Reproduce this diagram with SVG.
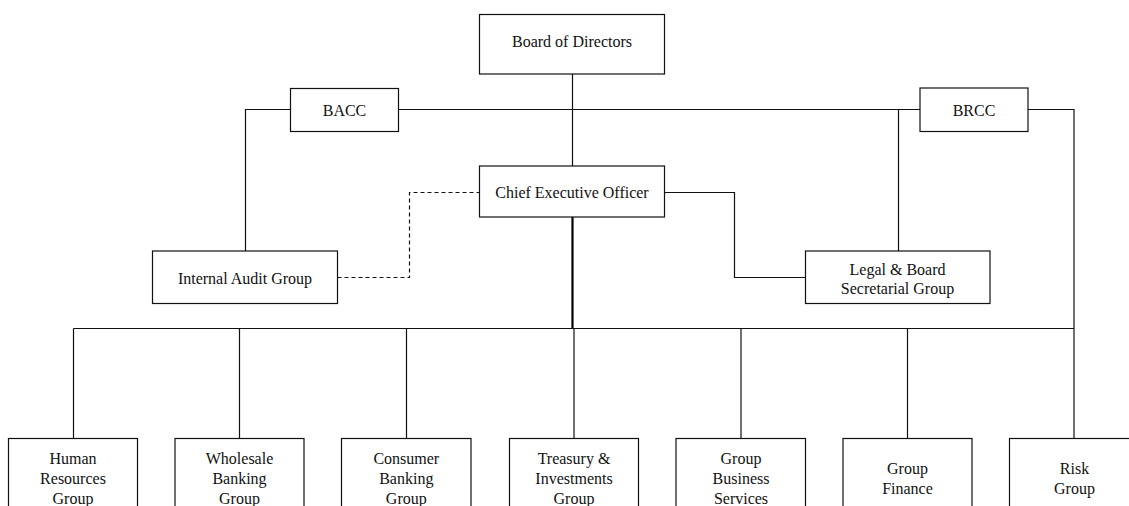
<svg xmlns="http://www.w3.org/2000/svg" width="1129" height="506" viewBox="0 0 1129 506">
<style>
.box{fill:#fff;stroke:#111;stroke-width:1.2}
.ln{fill:none;stroke:#111;stroke-width:1.2}
.thick{fill:none;stroke:#000;stroke-width:2.2}
.dash{fill:none;stroke:#111;stroke-width:1.2;stroke-dasharray:4 3}
text{font-family:"Liberation Serif","Times New Roman",serif;font-size:16px;fill:#111;text-anchor:middle}
</style>
<rect width="1129" height="506" fill="#fff"/>
<g id="connectors">
<line class="ln" x1="572.5" y1="74" x2="572.5" y2="166"/>
<polyline class="ln" points="290.5,109.5 245.5,109.5 245.5,251"/>
<line class="ln" x1="398.5" y1="109.5" x2="920" y2="109.5"/>
<line class="ln" x1="898.5" y1="109.5" x2="898.5" y2="251"/>
<polyline class="ln" points="1028,109.5 1074,109.5 1074,438.5"/>
<polyline class="dash" points="337.5,277.5 409.5,277.5 409.5,192.5 479,192.5"/>
<polyline class="ln" points="664.5,192.5 734.5,192.5 734.5,277.5 805.5,277.5"/>
<line class="thick" x1="572.5" y1="217" x2="572.5" y2="328.5"/>
<line class="ln" x1="73.5" y1="328.5" x2="1074" y2="328.5"/>
<line class="ln" x1="73.5" y1="328.5" x2="73.5" y2="438.5"/>
<line class="ln" x1="239.5" y1="328.5" x2="239.5" y2="438.5"/>
<line class="ln" x1="406.5" y1="328.5" x2="406.5" y2="438.5"/>
<line class="ln" x1="574" y1="328.5" x2="574" y2="438.5"/>
<line class="ln" x1="741" y1="328.5" x2="741" y2="438.5"/>
<line class="ln" x1="907.5" y1="328.5" x2="907.5" y2="438.5"/>
</g>
<g id="board"><rect class="box" x="479.5" y="14.5" width="185" height="59.5"/><text x="572" y="47">Board of Directors</text></g>
<g id="bacc"><rect class="box" x="290.5" y="88.5" width="108" height="43"/><text x="344.5" y="115.5">BACC</text></g>
<g id="brcc"><rect class="box" x="920" y="88" width="108" height="43.5"/><text x="974" y="115.5">BRCC</text></g>
<g id="ceo"><rect class="box" x="479.5" y="166" width="185" height="51"/><text x="572" y="197.5">Chief Executive Officer</text></g>
<g id="audit"><rect class="box" x="152.5" y="251" width="185" height="52.5"/><text x="245" y="284">Internal Audit Group</text></g>
<g id="legal"><rect class="box" x="805.5" y="251" width="184.5" height="52.5"/><text x="897.5" y="274.5">Legal &amp; Board</text><text x="897.5" y="294">Secretarial Group</text></g>
<g id="hr"><rect class="box" x="8.5" y="438.5" width="129" height="80"/><text x="73" y="463.5">Human</text><text x="73" y="483.5">Resources</text><text x="73" y="503.5">Group</text></g>
<g id="wholesale"><rect class="box" x="175" y="438.5" width="129" height="80"/><text x="239.5" y="463.5">Wholesale</text><text x="239.5" y="483.5">Banking</text><text x="239.5" y="503.5">Group</text></g>
<g id="consumer"><rect class="box" x="341.5" y="438.5" width="129.5" height="80"/><text x="406.3" y="463.5">Consumer</text><text x="406.3" y="483.5">Banking</text><text x="406.3" y="503.5">Group</text></g>
<g id="treasury"><rect class="box" x="509.5" y="438.5" width="129" height="80"/><text x="574" y="463.5">Treasury &amp;</text><text x="574" y="483.5">Investments</text><text x="574" y="503.5">Group</text></g>
<g id="gbs"><rect class="box" x="676" y="438.5" width="129.5" height="80"/><text x="741" y="463.5">Group</text><text x="741" y="483.5">Business</text><text x="741" y="503.5">Services</text></g>
<g id="finance"><rect class="box" x="843" y="438.5" width="129" height="80"/><text x="907.5" y="473.5">Group</text><text x="907.5" y="493.5">Finance</text></g>
<g id="risk"><rect class="box" x="1009.5" y="438.5" width="129" height="80"/><text x="1074.5" y="473.5">Risk</text><text x="1074.5" y="493.5">Group</text></g>
</svg>
